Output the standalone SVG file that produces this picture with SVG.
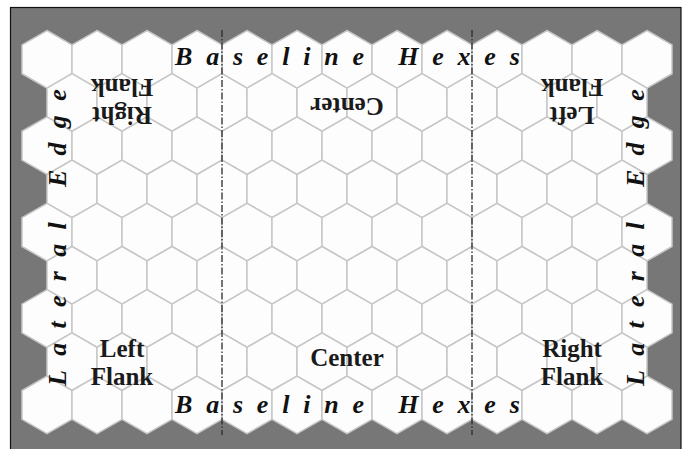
<svg xmlns="http://www.w3.org/2000/svg" xmlns:xlink="http://www.w3.org/1999/xlink" width="688" height="449" viewBox="0 0 688 449">
<style>
.hex{fill:#fdfdfd;stroke:#c6c6c6;stroke-width:1.5}
.div{stroke:#2a2a2a;stroke-width:1.3;stroke-dasharray:7 2 1.5 2;fill:none}
.base{font-family:"Liberation Serif","Times New Roman",serif;font-weight:bold;font-style:italic;font-size:26px;letter-spacing:13.8px;fill:#111}
.lat{letter-spacing:14.3px}
.lbl{font-family:"Liberation Serif","Times New Roman",serif;font-weight:bold;font-size:25px;fill:#1a1a1a;text-anchor:middle}
</style>
<defs>
<path id="hx" class="hex" d="M0,-28.8 L25,-14.4 L25,14.4 L0,28.8 L-25,14.4 L-25,-14.4 Z"/>
<g id="rowEven">
<use href="#hx" x="47"/><use href="#hx" x="97"/><use href="#hx" x="147"/><use href="#hx" x="197"/><use href="#hx" x="247"/><use href="#hx" x="297"/><use href="#hx" x="347"/><use href="#hx" x="397"/><use href="#hx" x="447"/><use href="#hx" x="497"/><use href="#hx" x="547"/><use href="#hx" x="597"/><use href="#hx" x="647"/>
</g>
<g id="rowOdd">
<use href="#hx" x="72"/><use href="#hx" x="122"/><use href="#hx" x="172"/><use href="#hx" x="222"/><use href="#hx" x="272"/><use href="#hx" x="322"/><use href="#hx" x="372"/><use href="#hx" x="422"/><use href="#hx" x="472"/><use href="#hx" x="522"/><use href="#hx" x="572"/><use href="#hx" x="622"/>
</g>
</defs>
<rect x="0" y="0" width="688" height="449" fill="#ffffff"/>
<rect id="frame" x="10.5" y="7.5" width="670.5" height="450" fill="#777777" stroke="#111" stroke-width="1.2"/>
<g id="hexgrid">
<use href="#rowEven" y="59.3"/>
<use href="#rowOdd" y="102.5"/>
<use href="#rowEven" y="145.7"/>
<use href="#rowOdd" y="188.9"/>
<use href="#rowEven" y="232.1"/>
<use href="#rowOdd" y="275.3"/>
<use href="#rowEven" y="318.5"/>
<use href="#rowOdd" y="361.7"/>
<use href="#rowEven" y="404.9"/>
</g>
<g id="connectors">
<line class="div" x1="222" y1="30" x2="222" y2="435"/>
<line class="div" x1="472" y1="30" x2="472" y2="435"/>
</g>
<g id="baseline-top"><text class="base" x="175" y="65">Baseline Hexes</text></g>
<g id="baseline-bottom"><text class="base" x="175" y="413">Baseline Hexes</text></g>
<g id="lateral-left"><text class="base lat" transform="translate(66,386) rotate(-90)">Lateral Edge</text></g>
<g id="lateral-right"><text class="base lat" transform="translate(644,386) rotate(-90)">Lateral Edge</text></g>
<g id="label-left-flank"><text class="lbl" x="122" y="357">Left<tspan x="122" y="385">Flank</tspan></text></g>
<g id="label-center"><text class="lbl" x="347" y="366">Center</text></g>
<g id="label-right-flank"><text class="lbl" x="572" y="357">Right<tspan x="572" y="385">Flank</tspan></text></g>
<g id="label-top-right-flank" transform="rotate(180 347 231.75)"><text class="lbl" x="572" y="357">Right<tspan x="572" y="385">Flank</tspan></text></g>
<g id="label-top-center" transform="rotate(180 347 231.75)"><text class="lbl" x="347" y="366">Center</text></g>
<g id="label-top-left-flank" transform="rotate(180 347 231.75)"><text class="lbl" x="122" y="357">Left<tspan x="122" y="385">Flank</tspan></text></g>
</svg>
